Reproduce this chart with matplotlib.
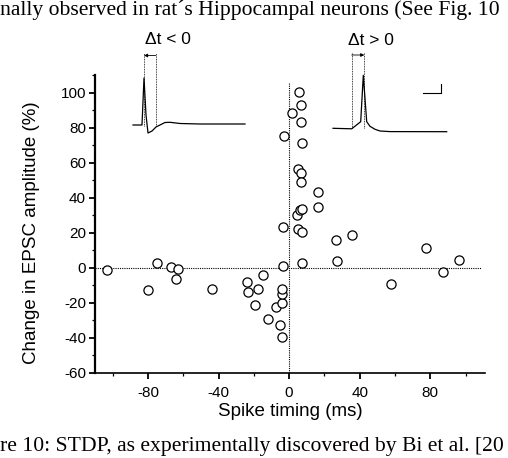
import numpy as np
import matplotlib
matplotlib.use("Agg")
import matplotlib.pyplot as plt
from matplotlib.ticker import MultipleLocator

plt.rcParams['font.family'] = ['Liberation Sans', 'DejaVu Sans']
plt.rcParams['axes.unicode_minus'] = False

# spike timing (ms) vs change in EPSC amplitude (%)
spike_timing = [-103, -80, -75, -67, -63, -64, -43.5, -24, -23.5, -17.5, -19.3, -14.8,
                -12, -7.5, -5.3, -4, -4.3, -3.8, -4.1, -3.4, -3.4,
                4.2, 6.1, 7.4, 5.1, 7.4, 7.4, 5.1, 6.5, 7.0, 7.2,
                16.5, 16.1, 26.3, 35.4, 26.9, 57.9, 77.6, 87, 96.3,
                1.4, 5.7, 6.5, 7.0, -3.0]
epsc_change = [-1, -12.5, 2.8, 0.4, -0.6, -6.3, -12.3, -8, -14, -12.3, -21, -4,
               -29.2, -22.2, -32.6, -39.7, -20.1, -14.8, -12.1, 0.8, 23.4,
               30, 32.9, 33.3, 21.9, 20.5, 2.5, 56.1, 54.1, 49, 71,
               43, 34.8, 15.6, 18.8, 4.0, -9.5, 11.4, -2.5, 4.2,
               88.5, 100.3, 93.1, 83.2, 75.2]

x_ticks_major = [-80, -40, 0, 40, 80]
y_ticks_major = [-60, -40, -20, 0, 20, 40, 60, 80, 100]

# inset traces (time, potential) in arbitrary units
pre_t = [3, 12, 14, 16, 18, 22, 26, 30, 35, 40, 50, 70, 115]
pre_v = [0, 0, 47, 10, -8, -6, -2, 0, 2.5, 2.7, 1.5, 1, 1]
post_t = [3, 21.7, 30.7, 33.3, 36.7, 40, 45, 50, 60, 116.7]
post_v = [0, -0.5, 6.6, 53, 6.6, 2, -1, -2.7, -3.3, -3.4]

W, H = 508, 458
fig = plt.figure(figsize=(W / 100, H / 100), dpi=100)
ax = fig.add_axes([95 / W, 1 - 373 / H, 390 / W, 298 / H])

ax.plot(spike_timing, epsc_change, 'o', ms=6.6, mfc='white', mec='black', mew=0.9,
        zorder=3)
ax.plot([-110, 109], [0, 0], ls=(0, (1, 1)), color='black', lw=0.8, zorder=2)
ax.plot([0, 0], [-60, 106], ls=(0, (1, 1)), color='black', lw=0.8, zorder=2)

ax.set_xlim(-110, 111)
ax.set_ylim(-60, 110)
ax.set_xticks(x_ticks_major)
ax.set_yticks(y_ticks_major)
ax.xaxis.set_minor_locator(MultipleLocator(20))
ax.yaxis.set_minor_locator(MultipleLocator(10))
for s in ['top', 'right']:
    ax.spines[s].set_visible(False)
ax.spines['left'].set_linewidth(1.6)
ax.spines['bottom'].set_linewidth(1.2)
ax.tick_params(which='major', direction='out', length=4.5, width=1.3, labelsize=11,
               pad=2)
ax.tick_params(axis='x', which='major', pad=5)
ax.tick_params(which='minor', direction='out', length=2.5, width=0.9)
ax.set_xlabel('Spike timing (ms)', fontsize=13.5, labelpad=2)
ax.set_ylabel('Change in EPSC amplitude (%)', fontsize=13.5, labelpad=1)
ax.yaxis.set_label_coords(-0.14, 0.47)

# left inset: dt < 0
axl = fig.add_axes([130 / W, 1 - 140 / H, 120 / W, 90 / H])
axl.plot(pre_t, pre_v, color='black', lw=0.9)
axl.plot([14, 14], [-1, 72], ls=(0, (1, 1)), color='black', lw=0.6)
axl.plot([25.7, 25.7], [-1, 72], ls=(0, (1, 1)), color='black', lw=0.6)
axl.annotate('', xy=(14, 69.5), xytext=(25.7, 69.5),
             arrowprops=dict(arrowstyle='-|>', lw=0.6, color='black',
                             mutation_scale=5, shrinkA=0, shrinkB=0),
             annotation_clip=False)
axl.text(38, 85, '\u0394t < 0', ha='center', va='center', fontsize=12.5,
         clip_on=False)
axl.set_xlim(0, 120)
axl.set_ylim(-15, 75)
axl.axis('off')

# right inset: dt > 0
axr = fig.add_axes([330 / W, 1 - 143.3 / H, 120 / W, 90 / H])
axr.plot(post_t, post_v, color='black', lw=0.9)
axr.plot([21.7, 21.7], [0, 76.6], ls=(0, (1, 1)), color='black', lw=0.6)
axr.plot([34.3, 34.3], [0, 76.6], ls=(0, (1, 1)), color='black', lw=0.6)
axr.annotate('', xy=(34.3, 73.3), xytext=(21.7, 73.3),
             arrowprops=dict(arrowstyle='-|>', lw=0.6, color='black',
                             mutation_scale=5, shrinkA=0, shrinkB=0),
             annotation_clip=False)
axr.text(41, 88, '\u0394t > 0', ha='center', va='center', fontsize=12.5,
         clip_on=False)
# scale bar
axr.plot([92.7, 110.7, 110.7], [35, 35, 44], color='black', lw=0.8)
axr.set_xlim(0, 120)
axr.set_ylim(-15, 75)
axr.axis('off')

# cropped page text
fig.text(0.0, 1 - 10 / H, 'nally observed in rat\u00b4s Hippocampal neurons (See Fig. 10',
         family=['Liberation Serif', 'DejaVu Serif'], fontsize=15.6, va='center',
         ha='left')
fig.text(0.0, 1 - 446 / H, 're 10: STDP, as experimentally discovered by Bi et al. [20',
         family=['Liberation Serif', 'DejaVu Serif'], fontsize=15.6, va='center',
         ha='left')

fig.savefig('out.png', dpi=100)
